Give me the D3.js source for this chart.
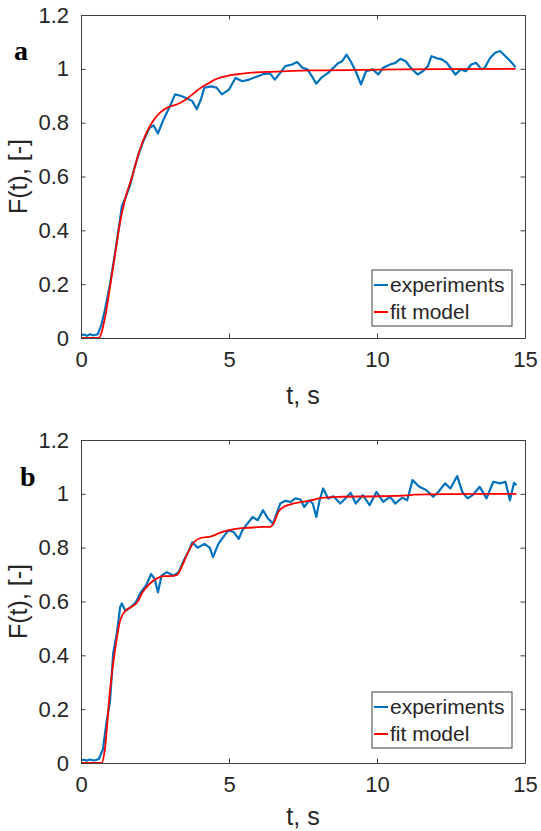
<!DOCTYPE html>
<html lang="en">
<head>
    <meta charset="utf-8">
    <title>F(t) step response</title>
    <style>
        body {
            margin: 0;
            background: #fff;
        }
        svg text {
            font-family: "Liberation Sans", Arial, Helvetica, sans-serif;
            fill: #262626;
        }
    </style>
</head>
<body>
<svg id="chart" width="541" height="831"></svg>
<script src="https://d3js.org/d3.v7.min.js"></script>
<script>
    // ticks
    var xTicks = [0, 5, 10, 15];
    var yTicks = [0, 0.2, 0.4, 0.6, 0.8, 1, 1.2];
    var legendNames = ["experiments", "fit model"];

    // panel a - experiments
    var tExpA = [0, 0.1, 0.2, 0.3, 0.4, 0.5, 0.57, 0.69, 0.8, 0.98, 1.15, 1.32, 1.38, 1.5, 1.65, 1.8, 1.96, 2.1, 2.31, 2.45, 2.6, 2.78, 3.0, 3.18, 3.36, 3.59, 3.76, 3.91, 4.05, 4.17, 4.4, 4.58, 4.76, 5.0, 5.22, 5.45, 5.68, 5.91, 6.15, 6.38, 6.55, 6.73, 6.9, 7.13, 7.3, 7.48, 7.65, 7.83, 7.95, 8.12, 8.35, 8.53, 8.7, 8.82, 8.97, 9.11, 9.28, 9.46, 9.63, 9.86, 10.04, 10.21, 10.44, 10.62, 10.79, 10.97, 11.14, 11.37, 11.55, 11.72, 11.84, 12.01, 12.19, 12.36, 12.48, 12.65, 12.83, 13.0, 13.18, 13.35, 13.53, 13.64, 13.82, 13.99, 14.16, 14.34, 14.51, 14.68];
    var expA = [0.01, 0.013, 0.008, 0.014, 0.01, 0.012, 0.014, 0.05, 0.1, 0.2, 0.316, 0.44, 0.49, 0.52, 0.565, 0.63, 0.688, 0.73, 0.78, 0.79, 0.76, 0.81, 0.86, 0.905, 0.9, 0.89, 0.88, 0.85, 0.886, 0.93, 0.935, 0.93, 0.905, 0.923, 0.966, 0.954, 0.96, 0.97, 0.98, 0.983, 0.96, 0.985, 1.01, 1.016, 1.025, 1.004, 0.998, 0.967, 0.945, 0.967, 0.985, 1.004, 1.022, 1.028, 1.053, 1.028, 0.991, 0.942, 0.991, 0.998, 0.979, 1.004, 1.016, 1.022, 1.037, 1.028, 1.004, 0.979, 0.991, 1.01, 1.047, 1.04, 1.035, 1.022, 1.004, 0.979, 0.998, 0.991, 1.016, 1.022, 0.998, 1.004, 1.04, 1.06, 1.066, 1.047, 1.028, 1.006];

    // panel a - fit model
    var tFitA = [0, 0.6, 0.8, 0.98, 1.15, 1.32, 1.5, 1.73, 1.96, 2.2, 2.43, 2.66, 2.9, 3.13, 3.36, 3.59, 3.82, 4.05, 4.29, 4.52, 4.76, 4.98, 5.22, 5.68, 6.61, 7.77, 10.1, 12.4, 14.68];
    var fitA = [0, 0, 0.07, 0.19, 0.31, 0.43, 0.52, 0.6, 0.69, 0.76, 0.805, 0.836, 0.855, 0.864, 0.874, 0.89, 0.91, 0.93, 0.945, 0.96, 0.969, 0.975, 0.979, 0.985, 0.99, 0.994, 0.997, 0.999, 1.0];

    // panel b - experiments
    var tExpB = [0, 0.1, 0.2, 0.3, 0.4, 0.5, 0.6, 0.74, 0.86, 0.98, 1.09, 1.21, 1.32, 1.38, 1.5, 1.67, 1.85, 2.02, 2.2, 2.37, 2.49, 2.6, 2.72, 2.9, 3.13, 3.3, 3.47, 3.65, 3.76, 3.94, 4.17, 4.35, 4.46, 4.64, 4.81, 4.98, 5.16, 5.33, 5.45, 5.62, 5.8, 5.97, 6.15, 6.32, 6.49, 6.61, 6.73, 6.9, 7.08, 7.25, 7.42, 7.54, 7.71, 7.83, 7.95, 8.06, 8.18, 8.35, 8.53, 8.76, 8.93, 9.11, 9.28, 9.52, 9.75, 9.98, 10.21, 10.44, 10.62, 10.85, 11.02, 11.2, 11.43, 11.66, 11.9, 12.07, 12.3, 12.48, 12.71, 12.88, 13.06, 13.23, 13.47, 13.7, 13.93, 14.16, 14.34, 14.49, 14.63, 14.71];
    var expB = [0.01, 0.012, 0.009, 0.013, 0.01, 0.011, 0.015, 0.05, 0.15, 0.23, 0.41, 0.48, 0.578, 0.593, 0.565, 0.578, 0.597, 0.634, 0.66, 0.702, 0.684, 0.634, 0.696, 0.709, 0.696, 0.709, 0.752, 0.79, 0.82, 0.8, 0.814, 0.8, 0.765, 0.814, 0.84, 0.864, 0.858, 0.833, 0.864, 0.889, 0.914, 0.902, 0.939, 0.908, 0.889, 0.927, 0.964, 0.974, 0.97, 0.983, 0.979, 0.951, 0.976, 0.964, 0.914, 0.976, 1.02, 0.983, 0.991, 0.964, 0.983, 1.004, 0.964, 0.995, 0.958, 1.007, 0.97, 0.989, 0.964, 0.986, 0.976, 1.051, 1.026, 1.014, 0.989, 1.007, 1.039, 1.02, 1.066, 1.007, 0.983, 0.995, 1.026, 0.983, 1.045, 1.039, 1.045, 0.976, 1.041, 1.032];

    // panel b - fit model
    var tFitB = [0, 0.7, 0.8, 0.98, 1.15, 1.32, 1.5, 1.67, 1.9, 2.08, 2.31, 2.54, 2.78, 3.0, 3.24, 3.42, 3.59, 3.82, 4.05, 4.4, 4.75, 5.22, 5.68, 6.15, 6.38, 6.5, 6.67, 6.84, 7.08, 7.42, 7.77, 8.12, 8.7, 10.1, 11.02, 11.25, 12.42, 14.71];
    var fitB = [0, 0, 0.046, 0.27, 0.42, 0.528, 0.565, 0.578, 0.597, 0.634, 0.665, 0.684, 0.694, 0.694, 0.699, 0.733, 0.777, 0.821, 0.836, 0.842, 0.858, 0.87, 0.874, 0.877, 0.877, 0.889, 0.933, 0.951, 0.961, 0.969, 0.976, 0.985, 0.989, 0.991, 0.994, 0.997, 0.999, 1.0];

    const colors = ["#0072BD", "#FF0000"];
    const panels = [
        {letter: "a", top: 15, tExp: tExpA, exp: expA, tFit: tFitA, fit: fitA, lx: 14, ly: 60, legTop: 270, titleOff: 66},
        {letter: "b", top: 440, tExp: tExpB, exp: expB, tFit: tFitB, fit: fitB, lx: 20, ly: 486, legTop: 692, titleOff: 62}
    ];
    const left = 81, right = 525, plotH = 323;
    const svg = d3.select("#chart");

    panels.forEach(function(p) {
        var bottom = p.top + plotH;
        var x = d3.scaleLinear().domain([0, 15]).range([left, right]);
        var y = d3.scaleLinear().domain([0, 1.2]).range([bottom, p.top]);
        var g = svg.append("g");

        // curves
        var expPts = p.tExp.map(function(t, i) { return [t, p.exp[i]]; });
        var fitPts = p.tFit.map(function(t, i) { return [t, p.fit[i]]; });
        g.append("path")
            .datum(expPts)
            .attr("fill", "none")
            .attr("stroke", colors[0])
            .attr("stroke-width", 2.2)
            .attr("stroke-linejoin", "round")
            .attr("d", d3.line().x(d => x(d[0])).y(d => y(d[1])));
        g.append("path")
            .datum(fitPts)
            .attr("fill", "none")
            .attr("stroke", colors[1])
            .attr("stroke-width", 1.8)
            .attr("d", d3.line().curve(d3.curveMonotoneX).x(d => x(d[0])).y(d => y(d[1])));

        // axes (box with inward ticks on all sides)
        var fmt = d3.format("~g");
        g.append("g").attr("transform", "translate(0," + bottom + ")")
            .call(d3.axisBottom(x).tickValues(xTicks).tickSizeInner(-4.5).tickSizeOuter(0).tickPadding(13).tickFormat(fmt));
        g.append("g").attr("transform", "translate(0," + p.top + ")")
            .call(d3.axisTop(x).tickValues(xTicks).tickSizeInner(-4.5).tickSizeOuter(0).tickFormat(""));
        g.append("g").attr("transform", "translate(" + left + ",0)")
            .call(d3.axisLeft(y).tickValues(yTicks).tickSizeInner(-4.5).tickSizeOuter(0).tickPadding(12).tickFormat(fmt));
        g.append("g").attr("transform", "translate(" + right + ",0)")
            .call(d3.axisRight(y).tickValues(yTicks).tickSizeInner(-4.5).tickSizeOuter(0).tickFormat(""));
        g.selectAll(".domain, .tick line").attr("stroke", "#404040");
        g.selectAll(".tick text").attr("fill", "#262626").style("font-size", "22px");

        // axis titles
        g.append("text")
            .attr("x", (left + right) / 2)
            .attr("y", bottom + p.titleOff)
            .attr("text-anchor", "middle")
            .style("font-size", "25px")
            .text("t, s");
        g.append("text")
            .attr("transform", "translate(27," + (p.top + plotH / 2) + ") rotate(-90)")
            .attr("text-anchor", "middle")
            .style("font-size", "25px")
            .text("F(t), [-]");

        // panel letter
        g.append("text")
            .attr("x", p.lx)
            .attr("y", p.ly)
            .style("font-family", "'Liberation Serif', 'Times New Roman', serif")
            .style("font-weight", "bold")
            .style("font-size", "28px")
            .style("fill", "#000")
            .text(p.letter);

        // legend
        var leg = g.append("g").attr("transform", "translate(372," + p.legTop + ")");
        leg.append("rect")
            .attr("width", 140).attr("height", 56)
            .attr("fill", "#fff").attr("stroke", "#404040").attr("stroke-width", 1);
        legendNames.forEach(function(name, i) {
            var cy = 15 + i * 27;
            leg.append("line")
                .attr("x1", 2).attr("x2", 16).attr("y1", cy).attr("y2", cy)
                .attr("stroke", colors[i]).attr("stroke-width", 2);
            leg.append("text")
                .attr("x", 18).attr("y", cy)
                .attr("dy", "0.35em")
                .style("font-size", "21px")
                .text(name);
        });
    });
</script>
</body>
</html>
